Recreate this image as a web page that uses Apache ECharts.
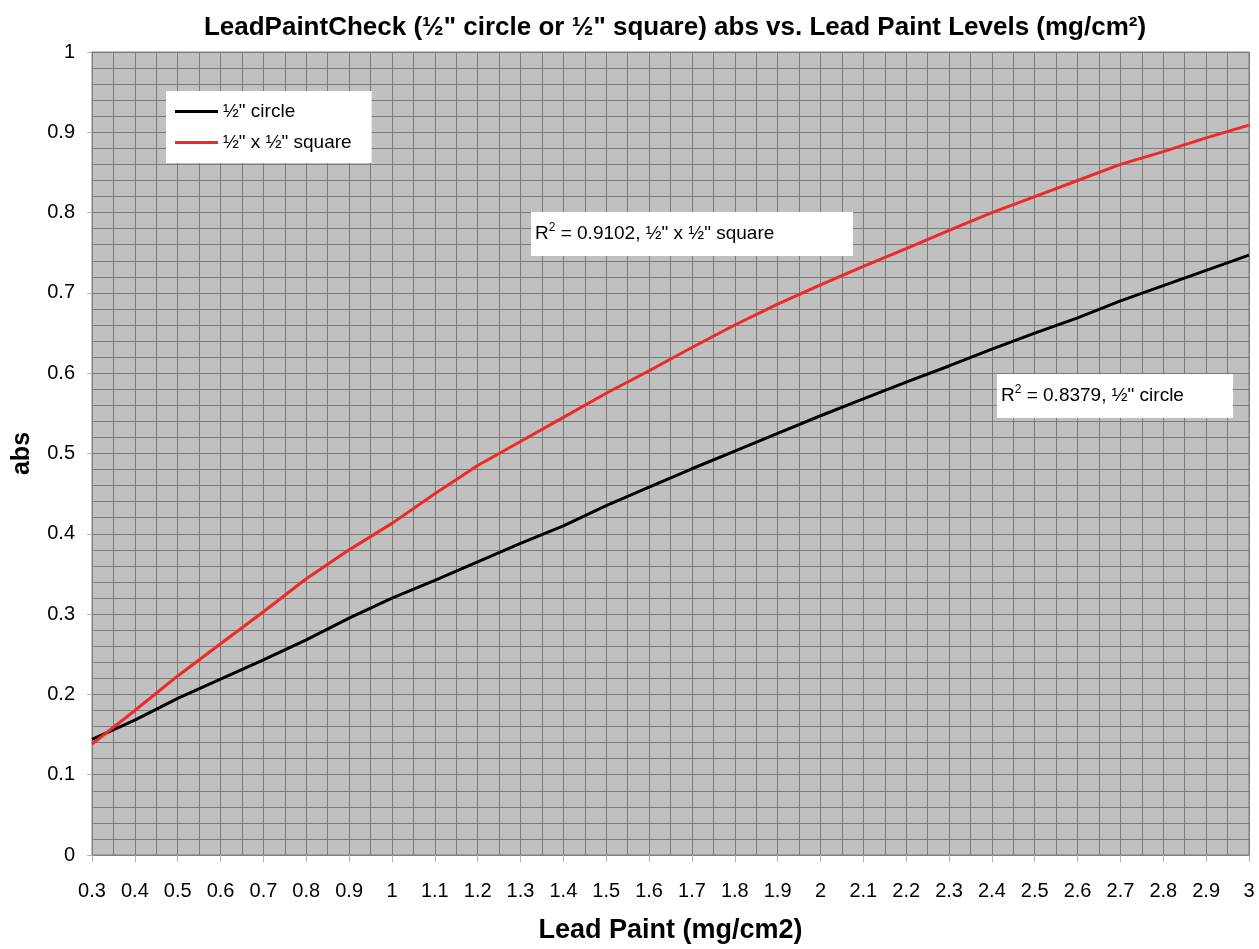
<!DOCTYPE html>
<html>
<head>
<meta charset="utf-8">
<script src="https://cdn.jsdelivr.net/npm/echarts@6/dist/echarts.min.js"></script>
<style>html,body{margin:0;padding:0;background:#fff;}#chart{width:1259px;height:949px;}</style>
</head>
<body>
<div id="chart"></div>
<script>
const leadPaint = [0.3,0.4,0.5,0.6,0.7,0.8,0.9,1.0,1.1,1.2,1.3,1.4,1.5,1.6,1.7,1.8,1.9,2.0,2.1,2.2,2.3,2.4,2.5,2.6,2.7,2.8,2.9,3.0];
const circleAbs = [0.144,0.168,0.195,0.219,0.243,0.268,0.295,0.320,0.342,0.365,0.388,0.410,0.435,0.458,0.481,0.503,0.525,0.547,0.568,0.589,0.609,0.630,0.650,0.669,0.690,0.709,0.728,0.747];
const squareAbs = [0.138,0.180,0.223,0.263,0.303,0.344,0.380,0.413,0.450,0.485,0.515,0.545,0.575,0.603,0.632,0.660,0.686,0.710,0.733,0.755,0.778,0.800,0.820,0.840,0.860,0.876,0.893,0.909];
const seriesNames = ['½" circle', '½" x ½" square'];
const r2Labels = ['0.9102, ½" x ½" square', '0.8379, ½" circle'];

const FONT = '"Liberation Sans", Arial, sans-serif';
const chart = echarts.init(document.getElementById('chart'));
const pairs = (ys) => leadPaint.map((x, i) => [x, ys[i]]);
const fmt = (v) => String(+(+v).toFixed(2));

function r2Box(left, top, w, h, txt) {
  return {
    type: 'group', left: left, top: top, z: 100,
    children: [
      { type: 'rect', z: 100, shape: { x: 0, y: 0, width: w, height: h }, style: { fill: '#fff' } },
      { type: 'text', z: 101, x: 4, y: h / 2, style: {
          text: '{a|R}{s|2}{a| = ' + txt + '}',
          verticalAlign: 'middle',
          rich: {
            a: { fontFamily: FONT, fontSize: 19, fill: '#000', lineHeight: 24 },
            s: { fontFamily: FONT, fontSize: 12, fill: '#000', lineHeight: 14, verticalAlign: 'top' }
          }
      } }
    ]
  };
}

chart.setOption({
  backgroundColor: '#fff',
  animation: false,
  title: {
    text: 'LeadPaintCheck (½" circle or ½" square) abs vs. Lead Paint Levels (mg/cm²)',
    left: 670, textAlign: 'center', top: 10,
    textStyle: { fontFamily: FONT, fontWeight: 'bold', fontSize: 26, color: '#000' }
  },
  grid: { left: 92, right: 10, top: 52, bottom: 91, show: true, backgroundColor: '#c0c0c0', borderColor: '#808080', borderWidth: 1 },
  legend: {
    orient: 'vertical', left: 166, top: 91,
    backgroundColor: '#fff', padding: [11, 20, 11, 9],
    icon: 'rect', itemWidth: 43, itemHeight: 3, itemGap: 12,
    textStyle: { fontFamily: FONT, fontSize: 19, color: '#000', padding: [0, 0, 0, 0] },
    data: seriesNames
  },
  xAxis: {
    type: 'value', min: 0.3, max: 3, interval: 0.1,
    name: 'Lead Paint (mg/cm2)', nameLocation: 'middle', nameGap: 62,
    nameTextStyle: { fontFamily: FONT, fontWeight: 'bold', fontSize: 27, color: '#000' },
    axisLine: { show: true, lineStyle: { color: '#808080', width: 1 } },
    axisTick: { show: true, length: 7, lineStyle: { color: '#b0b0b0' } },
    axisLabel: { margin: 26, fontFamily: FONT, fontSize: 20, color: '#000', formatter: fmt, showMinLabel: true, showMaxLabel: true },
    splitLine: { show: true, lineStyle: { color: '#7a7a7a', width: 1 } },
    minorTick: { show: false, splitNumber: 2 },
    minorSplitLine: { show: true, lineStyle: { color: '#7a7a7a', width: 1 } }
  },
  yAxis: {
    type: 'value', min: 0, max: 1, interval: 0.1,
    name: 'abs', nameLocation: 'middle', nameGap: 57,
    nameTextStyle: { fontFamily: FONT, fontWeight: 'bold', fontSize: 25, color: '#000' },
    axisLine: { show: true, lineStyle: { color: '#808080', width: 1 } },
    axisTick: { show: true, length: 5, lineStyle: { color: '#b0b0b0' } },
    axisLabel: { margin: 17, fontFamily: FONT, fontSize: 20, color: '#000', formatter: fmt },
    splitLine: { show: true, lineStyle: { color: '#7a7a7a', width: 1 } },
    minorTick: { show: false, splitNumber: 5 },
    minorSplitLine: { show: true, lineStyle: { color: '#7a7a7a', width: 1 } }
  },
  series: [
    { name: seriesNames[0], type: 'line', data: pairs(circleAbs), symbol: 'none', z: 3,
      lineStyle: { color: '#000', width: 3 }, itemStyle: { color: '#000' } },
    { name: seriesNames[1], type: 'line', data: pairs(squareAbs), symbol: 'none', z: 4,
      lineStyle: { color: '#f02828', width: 3 }, itemStyle: { color: '#f02828' } }
  ],
  graphic: [
    r2Box(531, 212, 322, 44, r2Labels[0]),
    r2Box(997, 374, 236, 44, r2Labels[1])
  ]
});
</script>
</body>
</html>
